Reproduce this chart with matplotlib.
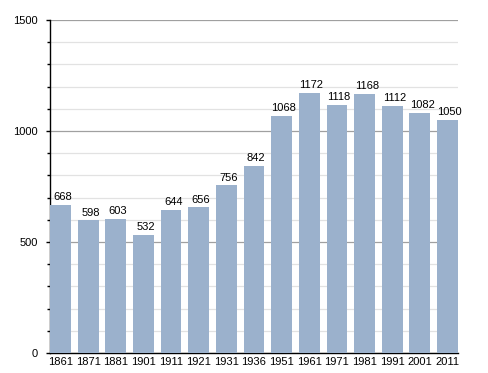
import matplotlib
matplotlib.use("Agg")
import matplotlib.pyplot as plt
from matplotlib.ticker import MultipleLocator

years = ["1861", "1871", "1881", "1901", "1911", "1921", "1931", "1936",
         "1951", "1961", "1971", "1981", "1991", "2001", "2011"]
population = [668, 598, 603, 532, 644, 656, 756, 842,
              1068, 1172, 1118, 1168, 1112, 1082, 1050]

plt.rcParams['font.family'] = ['Liberation Sans', 'DejaVu Sans']

fig = plt.figure(figsize=(4.88, 3.73), dpi=100)
ax = fig.add_axes([50/488, 20/373, 408/488, 333/373])

x = list(range(len(years)))
ax.bar(x, population, width=0.75, color='#9bb1cc', zorder=3)
for xi, v in zip(x, population):
    ax.text(xi + 0.08, v + 12, str(v), ha='center', va='bottom', fontsize=8, zorder=4)

ax.set_xlim(-0.38, len(years) - 1 + 0.38)
ax.set_ylim(0, 1500)
ax.yaxis.set_major_locator(MultipleLocator(500))
ax.yaxis.set_minor_locator(MultipleLocator(100))
ax.grid(which='major', axis='y', color='#a0a0a0', linewidth=0.9, zorder=1)
ax.grid(which='minor', axis='y', color='#e2e2e2', linewidth=0.9, zorder=1)
ax.set_xticks(x)
ax.set_xticklabels(years, fontsize=8)
ax.tick_params(axis='x', length=0, pad=3)
ax.tick_params(axis='y', which='major', length=3, width=1, labelsize=8, pad=6)
ax.tick_params(axis='y', which='minor', length=2, width=1)
for s in ['top', 'right']:
    ax.spines[s].set_visible(False)
ax.spines['left'].set_linewidth(1)
ax.spines['bottom'].set_linewidth(1)

fig.savefig('out.png', dpi=100)
